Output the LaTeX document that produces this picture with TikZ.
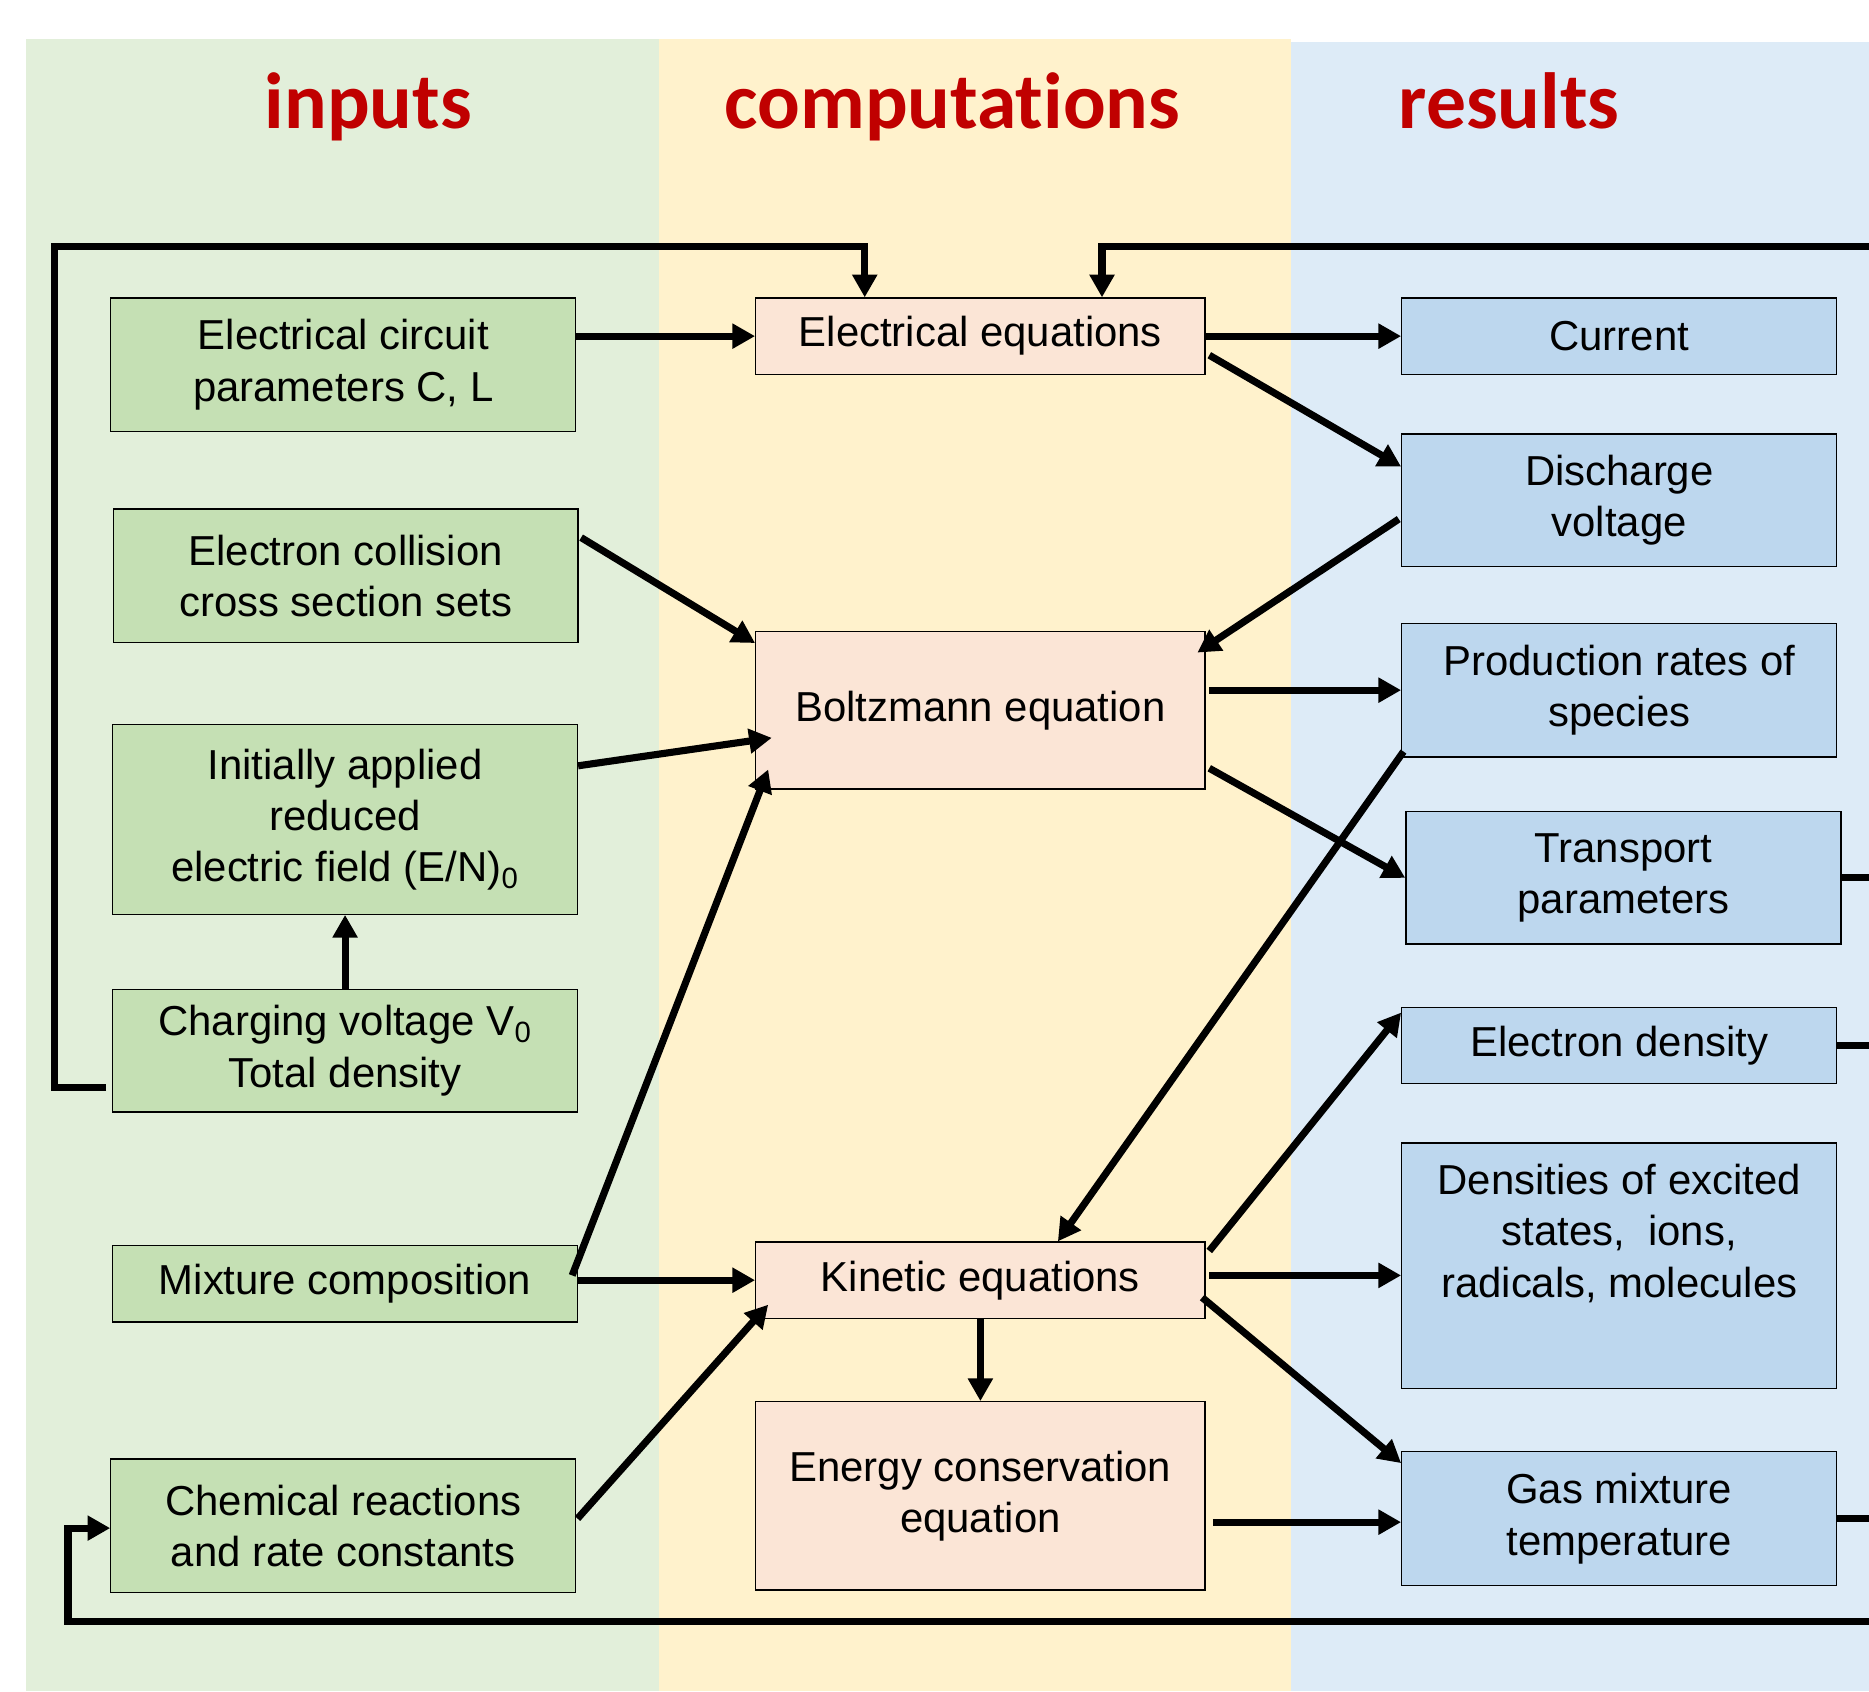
\documentclass[tikz,border=0pt]{standalone}
\usepackage{fontspec}
\setmainfont{Liberation Sans}
\newfontfamily\headfont[Ligatures=NoCommon]{Carlito}
\usetikzlibrary{arrows.meta,calc}
\definecolor{inband}{HTML}{E2EFDA}
\definecolor{compband}{HTML}{FFF2CC}
\definecolor{resband}{HTML}{DDEBF7}
\definecolor{inbox}{HTML}{C5E0B4}
\definecolor{compbox}{HTML}{FBE5D6}
\definecolor{resbox}{HTML}{BDD7EE}
\definecolor{headred}{HTML}{C00000}
\tikzset{blk/.style={draw,line width=0.6pt,align=center,inner sep=0pt,font=\fontsize{20}{24.5}\selectfont},
inblk/.style={blk,fill=inbox,minimum width=78mm},
compblk/.style={blk,fill=compbox,minimum width=75.4mm},
resblk/.style={blk,fill=resbox,minimum width=73mm},
colhead/.style={font=\headfont\bfseries\fontsize{38}{40}\selectfont,text=headred,text height=28pt,text depth=9pt},
arr/.style={line width=3.4pt,-{Triangle[length=3.8mm,width=4mm]}},
stub/.style={line width=3.4pt}}
\begin{document}
\begin{tikzpicture}[x=0.2mm,y=-0.2mm]
\useasboundingbox (0,0) rectangle (1568,1419);
% column bands
\fill[inband] (22,33) rectangle (553,1419);
\fill[compband] (553,33) rectangle (1083,1419);
\fill[resband] (1083,35) rectangle (1568,1419);
\node[colhead] (hin) at (309,91) {inputs};
\node[colhead] (hcomp) at (799,91) {computations};
\node[colhead] (hres) at (1266,91) {results};
% inputs
\node[inblk,minimum height=22.4mm] (circ) at (288,306) {Electrical circuit\\parameters C, L};
\node[inblk,minimum height=22.4mm] (xsec) at (290,483) {Electron collision\\cross section sets};
\node[inblk,minimum height=31.8mm] (efield) at (289.5,687.5) {Initially applied\\reduced\\electric field (E/N)\textsubscript{0}};
\node[inblk,minimum height=20.6mm] (charge) at (289.5,881.5) {Charging voltage V\textsubscript{0}\\Total density};
\node[inblk,minimum height=12.8mm] (mix) at (289.5,1077) {Mixture composition};
\node[inblk,minimum height=22.4mm] (chem) at (288,1280) {Chemical reactions\\and rate constants};
% computations
\node[compblk,minimum height=12.8mm] (eleq) at (822.5,282) {Electrical equations};
\node[compblk,minimum height=26.4mm] (boltz) at (822.5,596) {Boltzmann equation};
\node[compblk,minimum height=12.8mm] (kin) at (822.5,1074) {Kinetic equations};
\node[compblk,minimum height=31.6mm] (energy) at (822.5,1255) {Energy conservation\\equation};
% results
\node[resblk,minimum height=12.8mm] (curr) at (1358.5,282) {Current};
\node[resblk,minimum height=22.2mm] (vdis) at (1358.5,419.5) {Discharge\\voltage};
\node[resblk,minimum height=22.4mm] (prod) at (1358.5,579) {Production rates of\\species};
\node[resblk,minimum height=22.2mm] (transp) at (1362,736.5) {Transport\\parameters};
\node[resblk,minimum height=12.8mm] (edens) at (1358.5,877) {Electron density};
\node[resblk,minimum height=41.2mm] (dens) at (1358.5,1062) {Densities of excited\\states,~ ions,\\radicals, molecules\\[9pt]\mbox{}};
\node[resblk,minimum height=22.4mm] (tgas) at (1358.5,1274) {Gas mixture\\temperature};
% feedback loops
\coordinate (ltop) at (46,207);
\coordinate (rtop) at (1568,207);
\coordinate (lbot) at (57,1360);
\coordinate (rbot) at (1568,1360);
\draw[arr] ($(charge.south west)+(-5,-21)$) -| (ltop) -| ($(eleq.north west)+(92,0)$);
\draw[arr] (rtop) -| ($(eleq.north east)+(-87,0)$);
\draw[arr] (rbot) -- (lbot) |- ($(chem.west)+(0,2)$);
% inputs to computations
\draw[arr] (circ.east |- eleq.west) -- (eleq.west);
\draw[arr] ($(xsec.east)+(2,-32)$) -- ($(boltz.north west)+(0,10)$);
\draw[arr] ($(efield.north east)+(0,35)$) -- ($(boltz.west)+(14,23)$);
\draw[arr] ($(mix.east)+(-5,-7)$) -- ($(boltz.south west)+(11,-17)$);
\draw[arr] (charge.north) -- (efield.south);
\draw[arr] (mix.east |- kin.west) -- (kin.west);
\draw[arr] ($(chem.east)+(1,-6)$) -- ($(kin.south west)+(11,-12)$);
% computations to results
\draw[arr] (eleq.east) -- (curr.west);
\draw[arr] ($(eleq.east)+(3,16)$) -- ($(vdis.north west)+(0,28)$);
\draw[arr] ($(vdis.west)+(-2,16)$) -- ($(boltz.north east)+(-7,18)$);
\draw[arr] ($(boltz.east)+(3,-17)$) -- (prod.west);
\draw[arr] ($(boltz.south east)+(3,-18)$) -- (transp.west);
\draw[arr] ($(prod.south west)+(2,-5)$) -- ($(kin.north)+(65,0)$);
\draw[arr] (kin.south) -- (energy.north);
\draw[arr] ($(kin.north east)+(3,8)$) -- ($(edens.north west)+(0,5)$);
\draw[arr] ($(kin.east)+(3,-4)$) -- ($(dens.west)+(0,8)$);
\draw[arr] ($(kin.south east)+(-3,-18)$) -- ($(tgas.north west)+(0,10)$);
\draw[arr] ($(energy.east)+(6,22)$) -- ($(tgas.west)+(0,3)$);
% results leaving the picture
\draw[stub] (transp.east) -- (transp.east -| rbot);
\draw[stub] (edens.east) -- (edens.east -| rbot);
\draw[stub] (tgas.east) -- (tgas.east -| rbot);
\end{tikzpicture}
\end{document}
